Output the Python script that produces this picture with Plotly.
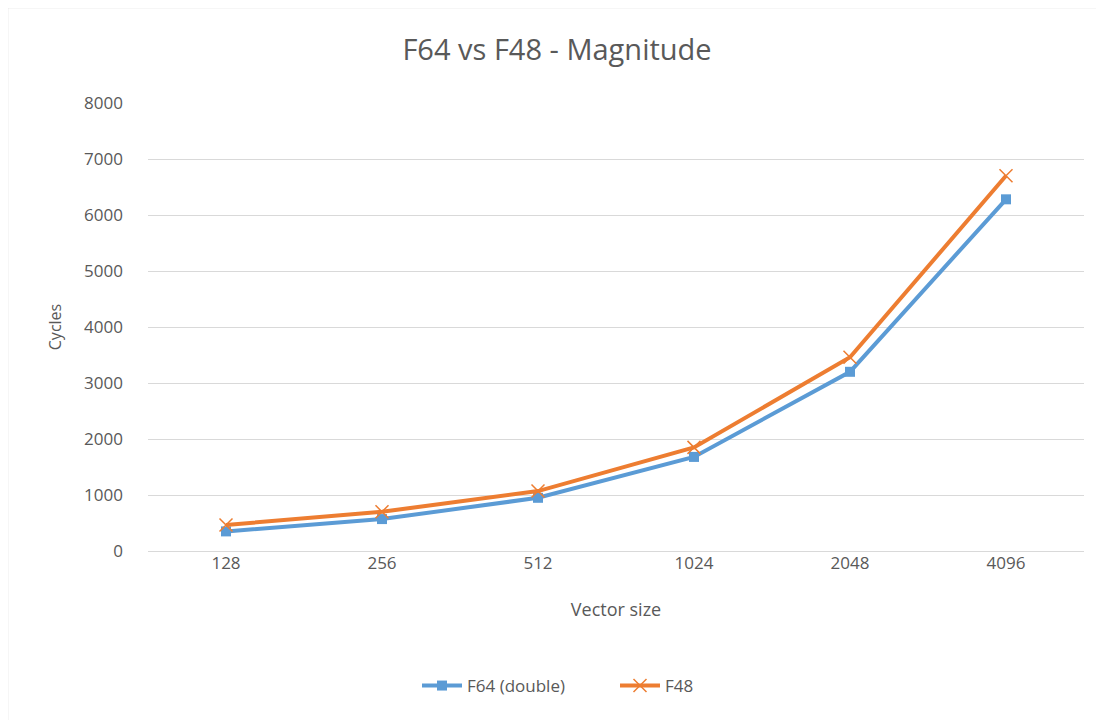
import plotly.graph_objects as go

categories = ["128", "256", "512", "1024", "2048", "4096"]
f64_values = [350, 570, 950, 1680, 3200, 6280]
f48_values = [465, 700, 1070, 1850, 3460, 6700]
y_ticks = [0, 1000, 2000, 3000, 4000, 5000, 6000, 7000, 8000]

# page body has an 8px margin; work in page pixels and shift
OFF = 8
W, H = 1104 - OFF, 720 - OFF
L, T = 148 - OFF, 103 - OFF
R = W - (1084 - OFF)
B = H - (551 - OFF)
pw, ph = W - L - R, H - T - B

def px(x):
    return (x - OFF - L) / pw

def py(y):
    return (H - B - (y - OFF)) / ph

font = "Open Sans, Liberation Sans, sans-serif"
grey = "#595959"

fig = go.Figure()
fig.add_trace(go.Scatter(
    x=categories, y=f64_values, name="F64 (double)", mode="lines+markers",
    line=dict(color="#5B9BD5", width=4),
    marker=dict(symbol="square", size=10, color="#5B9BD5"),
))
fig.add_trace(go.Scatter(
    x=categories, y=f48_values, name="F48", mode="lines+markers",
    line=dict(color="#ED7D31", width=4),
    marker=dict(symbol="x-thin", size=13, color="#ED7D31",
                line=dict(color="#ED7D31", width=1.5)),
))

fig.update_layout(
    width=W, height=H,
    margin=dict(l=L, r=R, t=T, b=B),
    paper_bgcolor="white", plot_bgcolor="white",
    font=dict(family=font, color=grey, size=15),
    title=dict(text="F64 vs F48 - Magnitude", xref="container",
               x=(557 - OFF) / W, xanchor="center",
               y=1 - (50 - OFF) / H, yanchor="middle",
               font=dict(size=29, color=grey, family=font)),
    xaxis=dict(type="category", range=[-0.5, 5.5], showgrid=False,
               showline=False, ticks="", zeroline=False,
               tickfont=dict(size=17, color=grey),
               title=dict(text="Vector size", font=dict(size=18, color=grey), standoff=30)),
    yaxis=dict(range=[0, 8000], tickvals=y_ticks, showgrid=True,
               gridcolor="#D9D9D9", gridwidth=1, zeroline=True,
               zerolinecolor="#D9D9D9", zerolinewidth=1,
               showline=False, ticks="", ticklabelstandoff=24,
               tickfont=dict(size=17, color=grey),
               title=dict(text="Cycles", font=dict(size=16, color=grey), standoff=18)),
    legend=dict(orientation="h", x=px(615), xanchor="center",
                y=py(686), yanchor="middle",
                font=dict(size=17, color=grey), itemwidth=40,
                entrywidth=143),
    showlegend=True,
)

fig.add_shape(type="line", xref="paper", yref="paper",
              x0=px(7.5), x1=px(7.5), y0=py(7.5), y1=py(720),
              line=dict(color="#D9D9D9", width=1.5))
fig.add_shape(type="line", xref="paper", yref="paper",
              x0=px(7.5), x1=px(1104), y0=py(7.5), y1=py(7.5),
              line=dict(color="#D9D9D9", width=1.5))

fig.write_html("out.html")
